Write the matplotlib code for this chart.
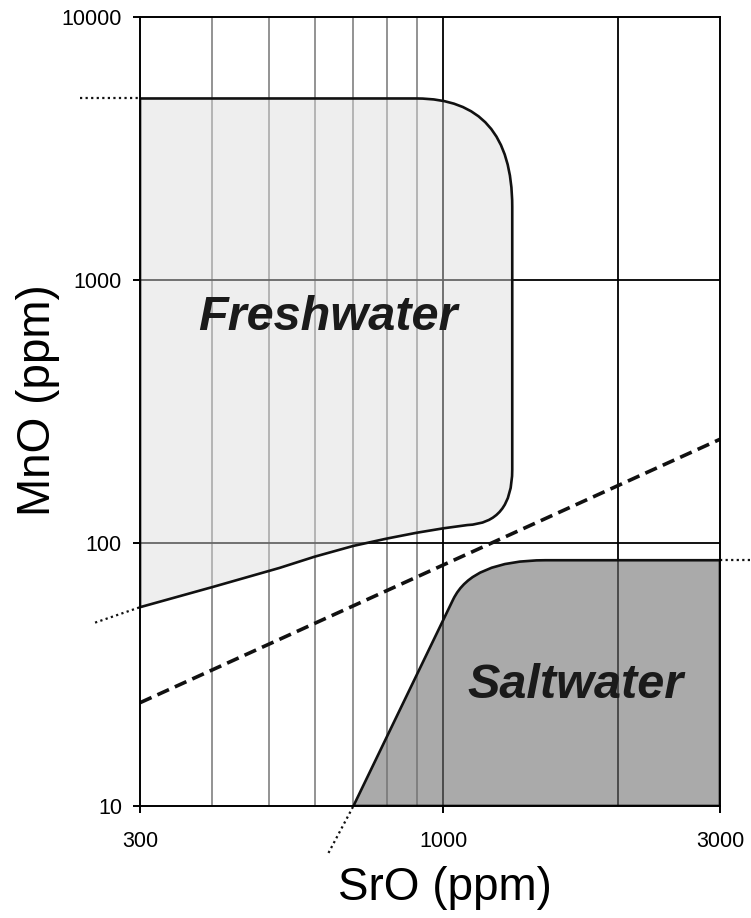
import matplotlib
matplotlib.use('Agg')
import matplotlib.pyplot as plt
from matplotlib.path import Path
from matplotlib.patches import PathPatch

plt.rcParams['font.family'] = ['Liberation Sans', 'DejaVu Sans']

# axis ticks / grid
x_ticks = [300, 1000, 3000]
y_ticks = [10, 100, 1000, 10000]
x_minor_grid = [400, 500, 600, 700, 800, 900]
x_major_grid = [1000, 2000]
y_major_grid = [100, 1000]

# freshwater field boundary (SrO, MnO)
fresh_x = [300, 300, 900, 1315, 1315, 1315, 1315, 1100,
           1000, 900, 800, 700, 600, 522, 400, 300]
fresh_y = [57, 4900, 4900, 4900, 1900, 190, 119, 117,
           113.7, 109.4, 104, 97.5, 88.7, 80.4, 68, 57]
fresh_codes = [Path.MOVETO, Path.LINETO, Path.LINETO, Path.CURVE3, Path.CURVE3,
               Path.LINETO, Path.CURVE3, Path.CURVE3,
               Path.LINETO, Path.LINETO, Path.LINETO, Path.LINETO,
               Path.LINETO, Path.LINETO, Path.LINETO, Path.CLOSEPOLY]

# saltwater field boundary
salt_x = [700, 1040, 1121, 1500, 3000, 3000, 700]
salt_y = [10, 61, 86, 86, 86, 10, 10]
salt_codes = [Path.MOVETO, Path.LINETO, Path.CURVE3, Path.CURVE3,
              Path.LINETO, Path.LINETO, Path.CLOSEPOLY]

# dashed divider
div_x = [300, 3000]
div_y = [24.7, 248]

# dotted extensions of the field boundaries
dots = [([236, 300], [4900, 4900]),
        ([251, 300], [49.8, 57]),
        ([3000, 3500], [86, 86]),
        ([634, 700], [6.63, 10])]

fig = plt.figure(figsize=(7.51, 9.18), dpi=100)
ax = fig.add_axes([140/751, 1 - 806/918, 580/751, 789/918])
ax.set_xscale('log')
ax.set_yscale('log')
ax.set_xlim(300, 3000)
ax.set_ylim(10, 10000)

for x in x_minor_grid:
    ax.axvline(x, color='#808080', lw=1.2, zorder=1)
for x in x_major_grid:
    ax.axvline(x, color='black', lw=1.3, zorder=1)
for y in y_major_grid:
    ax.axhline(y, color='black', lw=1.3, zorder=1)

fresh = Path(list(zip(fresh_x, fresh_y)), fresh_codes)
ax.add_patch(PathPatch(fresh, facecolor=(0.857, 0.857, 0.857, 0.47), edgecolor='none', zorder=2))
ax.add_patch(PathPatch(fresh, facecolor='none', edgecolor='#111111', lw=1.9, zorder=4))

salt = Path(list(zip(salt_x, salt_y)), salt_codes)
ax.add_patch(PathPatch(salt, facecolor=(0.447, 0.447, 0.447, 0.6), edgecolor='none', zorder=2))
ax.add_patch(PathPatch(salt, facecolor='none', edgecolor='#111111', lw=1.9, zorder=4))

ax.plot(div_x, div_y, color='#111111', lw=2.6, linestyle=(0, (3.5, 1.8)), zorder=5)

for dx, dy in dots:
    ax.plot(dx, dy, color='#111111', lw=1.6, linestyle=(0, (1, 1.5)), clip_on=False, zorder=5)

ax.text(633, 718, 'Freshwater', fontsize=35, fontweight='bold', fontstyle='italic',
        color='#1a1a1a', ha='center', va='center', zorder=6)
ax.text(1690, 28.8, 'Saltwater', fontsize=35, fontweight='bold', fontstyle='italic',
        color='#1a1a1a', ha='center', va='center', zorder=6)

ax.set_xticks(x_ticks)
ax.set_xticklabels([str(v) for v in x_ticks])
ax.set_yticks(y_ticks)
ax.set_yticklabels([str(v) for v in y_ticks])
ax.minorticks_off()
ax.tick_params(axis='x', length=5, width=1.4, labelsize=15.5, pad=13)
ax.tick_params(axis='y', length=5, width=1.4, labelsize=15.5, pad=8)
for s in ax.spines.values():
    s.set_linewidth(1.4)
    s.set_zorder(7)

fig.text(445/751, 1 - 888/918, 'SrO (ppm)', fontsize=33, ha='center', va='center')
fig.text(38/751, 1 - 400/918, 'MnO (ppm)', fontsize=33, ha='center', va='center', rotation=90)

fig.savefig('out.png', dpi=100)
